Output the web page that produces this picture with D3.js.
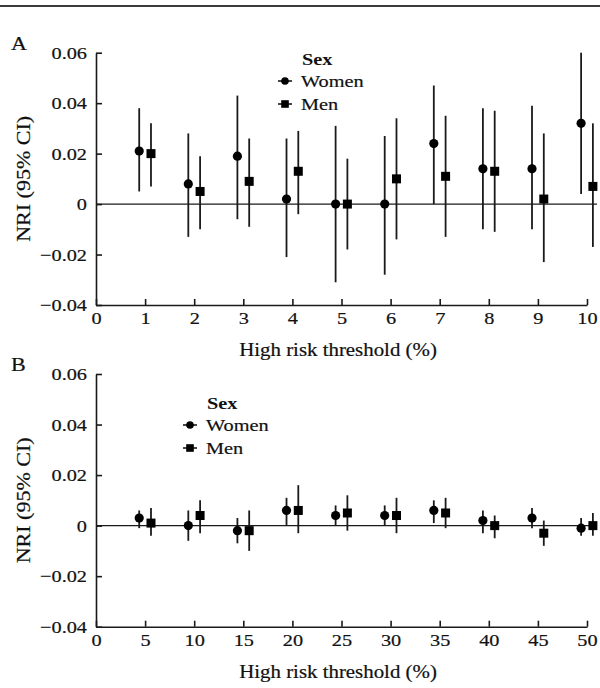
<!DOCTYPE html>
<html>
<head>
<meta charset="utf-8">
<script src="https://cdn.jsdelivr.net/npm/d3@7"></script>
<style>
  body { margin: 0; background: #fff; }
  svg text { font-family: "Liberation Serif", "Times New Roman", serif; fill: #111; stroke: #111; stroke-width: 0.2px; }
</style>
</head>
<body>
<div id="chart"></div>
<script>
// values
let thresholdsA = [1, 2, 3, 4, 5, 6, 7, 8, 9, 10]
let womenA   = [0.021, 0.008, 0.019, 0.002, 0.000, 0.000, 0.024, 0.014, 0.014, 0.032]
let womenALo = [0.005, -0.013, -0.006, -0.021, -0.031, -0.028, 0.000, -0.010, -0.010, 0.004]
let womenAHi = [0.038, 0.028, 0.043, 0.026, 0.031, 0.027, 0.047, 0.038, 0.039, 0.060]
let menA   = [0.020, 0.005, 0.009, 0.013, 0.000, 0.010, 0.011, 0.013, 0.002, 0.007]
let menALo = [0.007, -0.010, -0.009, -0.004, -0.018, -0.014, -0.013, -0.011, -0.023, -0.017]
let menAHi = [0.032, 0.019, 0.026, 0.029, 0.018, 0.034, 0.035, 0.037, 0.028, 0.032]

let thresholdsB = [5, 10, 15, 20, 25, 30, 35, 40, 45, 50]
let womenB   = [0.003, 0.000, -0.002, 0.006, 0.004, 0.004, 0.006, 0.002, 0.003, -0.001]
let womenBLo = [-0.001, -0.006, -0.007, 0.000, 0.000, 0.000, 0.001, -0.003, -0.001, -0.004]
let womenBHi = [0.006, 0.006, 0.003, 0.011, 0.008, 0.008, 0.010, 0.006, 0.007, 0.003]
let menB   = [0.001, 0.004, -0.002, 0.006, 0.005, 0.004, 0.005, 0.000, -0.003, 0.000]
let menBLo = [-0.004, -0.003, -0.010, -0.003, -0.002, -0.003, -0.001, -0.005, -0.008, -0.004]
let menBHi = [0.007, 0.010, 0.006, 0.016, 0.012, 0.011, 0.011, 0.004, 0.002, 0.005]

let yTicks = [-0.04, -0.02, 0, 0.02, 0.04, 0.06]
let xTicksA = [0, 1, 2, 3, 4, 5, 6, 7, 8, 9, 10]
let xTicksB = [0, 5, 10, 15, 20, 25, 30, 35, 40, 45, 50]
let sexLabels = ['Women', 'Men']

let width = 600, height = 688
let stretch = 1.16   // the source font is wide
let ink = '#1a1a1a'

let svg = d3.select('#chart')
            .append('svg')
            .attr('width', width)
            .attr('height', height)

// rule across the top
svg.append('line')
    .attr('x1', 0).attr('x2', width)
    .attr('y1', 6).attr('y2', 6)
    .attr('stroke', '#3a3a3a')
    .attr('stroke-width', 2)

function wideText(g, x, y, txt, size, anchor) {
  return g.append('text')
          .attr('transform', 'translate(' + x + ',' + y + ') scale(' + stretch + ',1)')
          .attr('text-anchor', anchor || 'start')
          .style('font-size', size + 'px')
          .text(txt)
}

function yFmt(d) {
  return d === 0 ? '0' : d3.format('.2f')(d)
}

function drawPanel(p) {
  let x = d3.scaleLinear().domain(p.xDomain).range([96, 587])
  let y = d3.scaleLinear().domain([-0.04, 0.06]).range([p.bottom, p.top])
  let g = svg.append('g')

  // zero reference line
  g.append('line')
    .attr('x1', x(p.xDomain[0])).attr('x2', 597)
    .attr('y1', y(0)).attr('y2', y(0))
    .attr('stroke', ink)
    .attr('stroke-width', 1.2)

  let xAxis = g.append('g')
               .attr('transform', 'translate(0,' + p.bottom + ')')
               .call(d3.axisBottom(x).tickValues(p.xTicks).tickSizeInner(-6).tickSizeOuter(0).tickPadding(7))
  let yAxis = g.append('g')
               .attr('transform', 'translate(96,0)')
               .call(d3.axisLeft(y).tickValues(yTicks).tickFormat(yFmt).tickSizeInner(-6).tickSizeOuter(0))

  ;[xAxis, yAxis].forEach(function (a) {
    a.select('.domain').attr('stroke', ink).attr('stroke-width', 1.6)
    a.selectAll('.tick line').attr('stroke', ink).attr('stroke-width', 1.6)
    a.selectAll('.tick text')
      .style('font-size', '17.5px')
      .style('font-family', '"Liberation Serif", serif')
      .attr('fill', '#111')
  })
  xAxis.selectAll('.tick text').attr('transform', 'scale(' + stretch + ',1)')
  yAxis.selectAll('.tick text')
       .attr('x', 0)
       .attr('transform', 'translate(-9,0) scale(' + stretch + ',1)')

  // panel letter
  wideText(g, 11, p.top - 3, p.letter, 19)

  // axis titles
  wideText(g, 338, p.bottom + 51, 'High risk threshold (%)', 18, 'middle')
  g.append('text')
    .attr('transform', 'translate(30,' + (p.top + p.bottom) / 2 + ') rotate(-90) scale(' + stretch + ',1)')
    .attr('text-anchor', 'middle')
    .style('font-size', '19px')
    .text('NRI (95% CI)')

  let series = [
    { key: 'Women', v: p.women, lo: p.womenLo, hi: p.womenHi, off: -p.dodge },
    { key: 'Men', v: p.men, lo: p.menLo, hi: p.menHi, off: p.dodge }
  ]

  series.forEach(function (s) {
    let rows = p.thresholds.map(function (t, i) {
      return { t: t + s.off, v: s.v[i], lo: s.lo[i], hi: s.hi[i] }
    })
    let sg = g.append('g')
    sg.selectAll('line')
      .data(rows)
      .enter()
      .append('line')
      .attr('x1', d => x(d.t)).attr('x2', d => x(d.t))
      .attr('y1', d => y(d.lo)).attr('y2', d => y(d.hi))
      .attr('stroke', ink)
      .attr('stroke-width', 1.8)
    if (s.key === 'Women') {
      sg.selectAll('circle')
        .data(rows)
        .enter()
        .append('circle')
        .attr('cx', d => x(d.t))
        .attr('cy', d => y(d.v))
        .attr('r', 4.6)
        .attr('fill', '#000')
    } else {
      sg.selectAll('rect')
        .data(rows)
        .enter()
        .append('rect')
        .attr('x', d => x(d.t) - 4.5)
        .attr('y', d => y(d.v) - 4.5)
        .attr('width', 9)
        .attr('height', 9)
        .attr('fill', '#000')
    }
  })

  // legend
  let lg = g.append('g').attr('transform', 'translate(' + p.legend[0] + ',' + p.legend[1] + ')')
  lg.append('text')
    .attr('transform', 'translate(17,0) scale(' + stretch + ',1)')
    .style('font-size', '17.5px')
    .style('font-weight', 'bold')
    .style('stroke-width', '0px')
    .text('Sex')
  sexLabels.forEach(function (lab, i) {
    let yy = 22 + i * 23
    lg.append('line')
      .attr('x1', -7).attr('x2', 7)
      .attr('y1', yy - 6).attr('y2', yy - 6)
      .attr('stroke', ink)
      .attr('stroke-width', 1.6)
    if (i === 0) {
      lg.append('circle').attr('cx', 0).attr('cy', yy - 6).attr('r', 3.8).attr('fill', '#000')
    } else {
      lg.append('rect').attr('x', -3.8).attr('y', yy - 9.8).attr('width', 7.6).attr('height', 7.6).attr('fill', '#000')
    }
    wideText(lg, 16, yy, lab, 17.5)
  })
}

drawPanel({
  letter: 'A', top: 52.7, bottom: 305, xDomain: [0, 10], xTicks: xTicksA, dodge: 0.12,
  thresholds: thresholdsA,
  women: womenA, womenLo: womenALo, womenHi: womenAHi,
  men: menA, menLo: menALo, menHi: menAHi,
  legend: [285, 65]
})

drawPanel({
  letter: 'B', top: 374, bottom: 626.7, xDomain: [0, 50], xTicks: xTicksB, dodge: 0.6,
  thresholds: thresholdsB,
  women: womenB, womenLo: womenBLo, womenHi: womenBHi,
  men: menB, menLo: menBLo, menHi: menBHi,
  legend: [190, 409]
})
</script>
</body>
</html>
